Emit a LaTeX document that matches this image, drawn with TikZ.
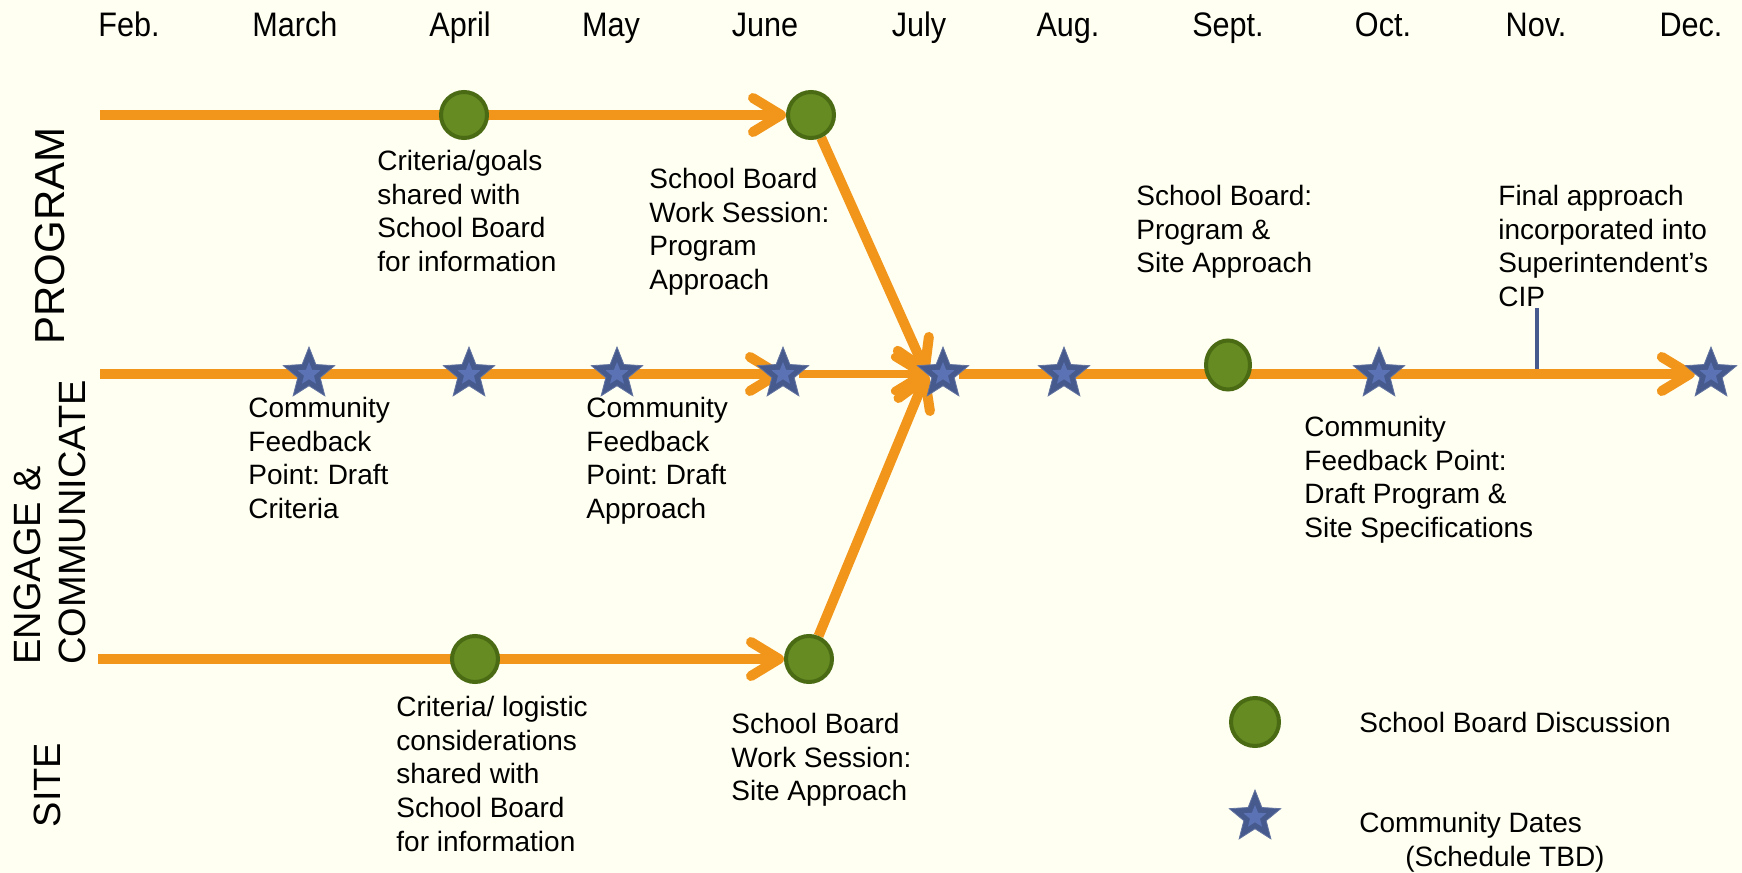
\documentclass[tikz,border=0pt]{standalone}
\usepackage{fontspec}
\setmainfont{Liberation Sans}
\usetikzlibrary{shapes,arrows.meta}

\definecolor{sheet}{RGB}{255,255,242}
\definecolor{flow}{RGB}{241,150,27}
\definecolor{boardfill}{RGB}{101,139,34}
\definecolor{boardline}{RGB}{74,107,20}
\definecolor{datefill}{RGB}{70,90,142}
\definecolor{dateinner}{RGB}{91,115,181}

\pgfdeclarelayer{paper}
\pgfdeclarelayer{lines}
\pgfsetlayers{paper,lines,main}

\newcommand\cdate[2]{\node[cdate] (#1) at (#2) {}; \node[cdateinner] (#1i) at (#2) {};}

\frenchspacing
\begin{document}
\begin{tikzpicture}[x=0.5pt,y=-0.5pt,
  every node/.style={font=\fontsize{14}{16.8}\selectfont, inner sep=0pt},
  track/.style={draw=flow, line width=5pt, -{Straight Barb[length=14pt,width=17pt,round]}},
  board/.style={circle, fill=boardfill, draw=boardline, line width=2pt, minimum size=23pt},
  cdate/.style={star, star points=5, star point ratio=2.3, fill=datefill, draw=datefill!85!white, line width=0.4pt, minimum size=27pt},
  cdateinner/.style={star, star points=5, star point ratio=2.3, fill=dateinner, minimum size=12pt},
  note/.style={anchor=north west, align=left}]

  \useasboundingbox (0,0) rectangle (1742,873);
  \begin{pgfonlayer}{paper}
    \fill[sheet] (0,0) rectangle (1742,873);
  \end{pgfonlayer}

  \foreach \mname/\mx [count=\i] in {Feb./129,March/295,April/460,May/611,June/765,July/919,Aug./1068,Sept./1228,Oct./1383,Nov./1536,Dec./1691}
    \node[anchor=base, xscale=0.9, font=\fontsize{17}{20}\selectfont] (m\i) at (\mx,36) {\mname};

  % row labels
  \node[rotate=90, font=\fontsize{21}{25}\selectfont] (lprog) at (50,236) {PROGRAM};
  \node[rotate=90, anchor=north west, align=left, font=\fontsize{19}{22.5}\selectfont] (leng) at (14,665) {ENGAGE \&\\COMMUNICATE};
  \node[rotate=90, font=\fontsize{19}{23}\selectfont] (lsite) at (47,785) {SITE};

  % milestones
  \coordinate (p0) at (100,115);
  \coordinate (e0) at (100,374);
  \coordinate (s0) at (98,659);
  \node[board] (papr) at (464,115) {};
  \node[board] (pjun) at (811,115) {};
  \node[board] (sapr) at (475,659) {};
  \node[board] (sjun) at (809,659) {};
  \node[board, ellipse, minimum width=22pt, minimum height=24.5pt] (sept) at (1228,365) {};
  \cdate{mar}{309,374}
  \cdate{apr}{469,374}
  \cdate{may}{617,374}
  \cdate{jun}{783,374}
  \cdate{jul}{943,374}
  \cdate{aug}{1064,374}
  \cdate{oct}{1379,374}
  \cdate{dec}{1711,374}
  \coordinate (tktop) at (1537,308);
  \coordinate (tkbot) at (1537,369);

  \begin{pgfonlayer}{lines}
    \draw[track] (p0) -- (pjun);
    \draw[track] (s0) -- (sjun);
    \draw[track] (e0) -- (jun.center);
    \draw[track, line width=4pt] (jun) -- (jul.west);
    \draw[track] (jul) -- (dec.west);
    \draw[track] (pjun) -- (jul.west);
    \draw[track] (sjun) -- (jul.west);
    \draw[datefill, line width=2pt] (tktop) -- (tkbot);
  \end{pgfonlayer}

  \node[note] (pcrit) at (377,150) {Criteria/goals\\shared with\\School Board\\for information};
  \node[note] (pws) at (649,168) {School Board\\Work Session:\\Program\\Approach};
  \node[note] (psb) at (1136,185) {School Board:\\Program \&\\Site Approach};
  \node[note] (pfin) at (1498,185) {Final approach\\incorporated into\\Superintendent’s\\CIP};
  \node[note] (ecf1) at (248,397) {Community\\Feedback\\Point: Draft\\Criteria};
  \node[note] (ecf2) at (586,397) {Community\\Feedback\\Point: Draft\\Approach};
  \node[note] (ecf3) at (1304,416) {Community\\Feedback Point:\\Draft Program \&\\Site Specifications};
  \node[note] (scrit) at (396,696) {Criteria/ logistic\\considerations\\shared with\\School Board\\for information};
  \node[note] (sws) at (731,713) {School Board\\Work Session:\\Site Approach};

  % legend
  \node[board, minimum size=24pt] (keyboard) at (1255,722) {};
  \node[anchor=west] (keyboardtxt) at (1359,722) {School Board Discussion};
  \cdate{keydate}{1255,817}
  \node[note] (keydatetxt) at (1359,812) {Community Dates\\\hspace{23pt}(Schedule TBD)};
\end{tikzpicture}
\end{document}
